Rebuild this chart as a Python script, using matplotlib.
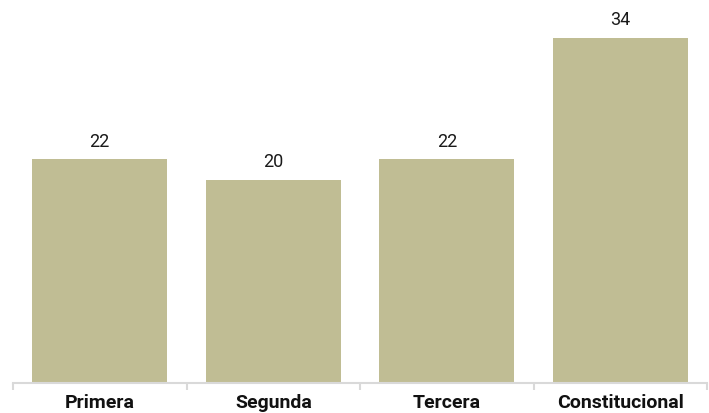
import matplotlib
matplotlib.use('Agg')
import matplotlib.pyplot as plt

# data
categories = ['Primera', 'Segunda', 'Tercera', 'Constitucional']
values = [22, 20, 22, 34]

plt.rcParams['font.family'] = ['Roboto', 'DejaVu Sans']

fig = plt.figure(figsize=(7.09, 4.13), dpi=100)
ax = fig.add_axes([13 / 709, 30 / 413, 694 / 709, 383 / 413])

x = range(len(categories))
bars = ax.bar(x, values, width=0.78, color='#c0bd94', zorder=2)

# value labels above bars
for b, v in zip(bars, values):
    ax.annotate(str(v), (b.get_x() + b.get_width() / 2, v),
                xytext=(0, 6), textcoords='offset points',
                ha='center', va='bottom', fontsize=13, color='#1a1a1a')

ax.set_xlim(-0.5, len(categories) - 0.5)
ax.set_ylim(0, 37.7)

for s in ['top', 'right', 'left']:
    ax.spines[s].set_visible(False)
ax.spines['bottom'].set_color('#d9d9d9')
ax.spines['bottom'].set_linewidth(1.5)

ax.set_yticks([])
ax.set_xticks(list(x))
ax.set_xticklabels(categories, fontsize=14, fontweight='bold', color='#111111')
ax.tick_params(axis='x', length=0, pad=8)

# separators between categories
ax.set_xticks([i - 0.5 for i in range(len(categories) + 1)], minor=True)
ax.tick_params(axis='x', which='minor', length=5, color='#d9d9d9', width=1.5)

fig.savefig('out.png', dpi=100)
